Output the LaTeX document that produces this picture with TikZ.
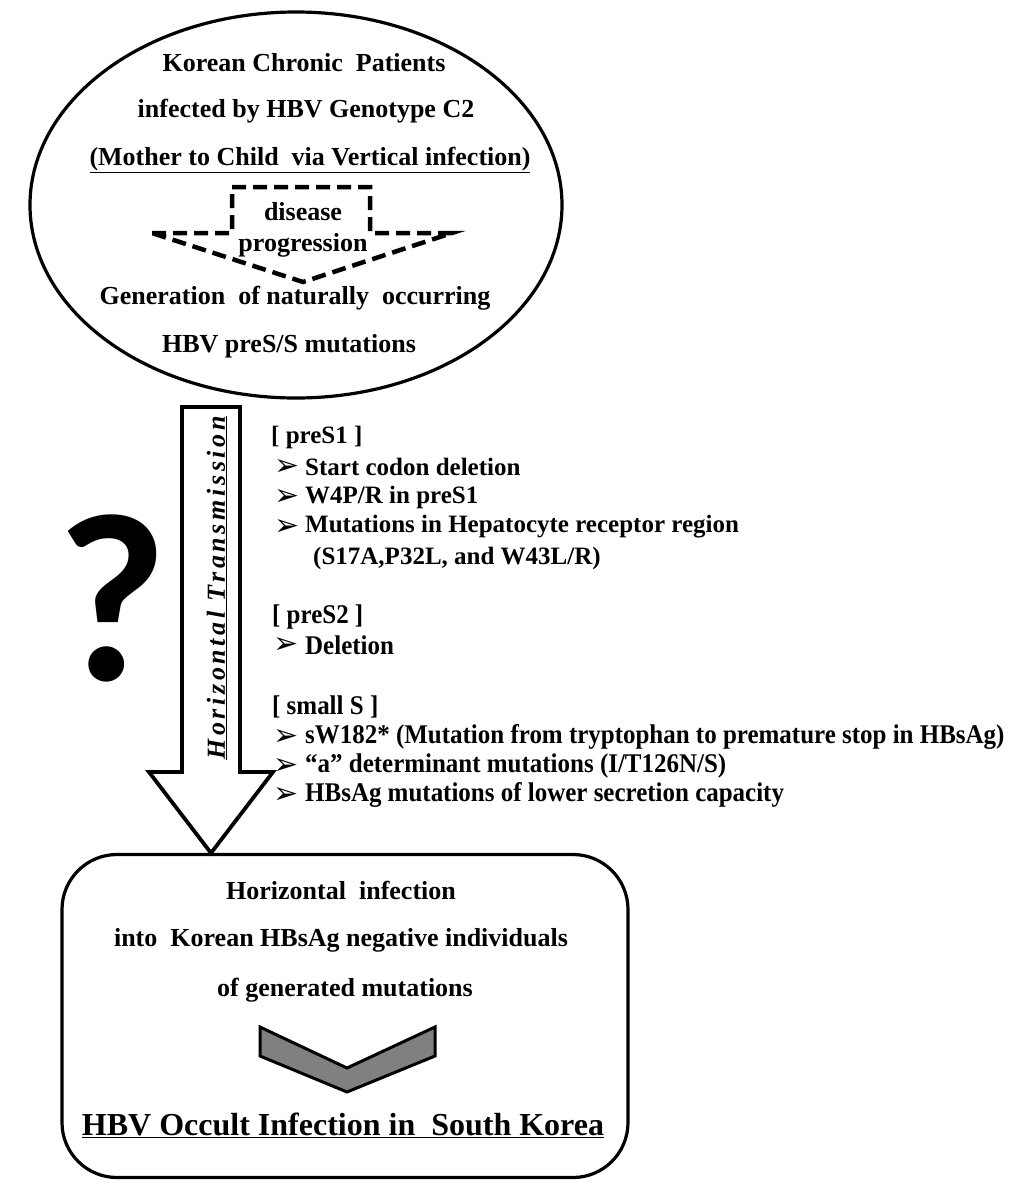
\documentclass[tikz,border=0pt]{standalone}
\usepackage{fontspec}
\setmainfont{Liberation Serif}
\newfontfamily\condfont{Liberation Serif}[FakeStretch=0.925]
\newfontfamily\spacedfont{Liberation Serif}[LetterSpace=14]
\newfontfamily\qfont{Carlito}
\newfontfamily\symfont{DejaVu Sans}
\usetikzlibrary{shapes.geometric}
\begin{document}
\begin{tikzpicture}[x=1pt,y=-1pt,
  txt/.style={inner sep=0pt, font=\fontsize{26}{30}\selectfont\bfseries},
  itm/.style={anchor=west, inner sep=0pt, font=\fontsize{25}{28}\selectfont\bfseries},
  citm/.style={anchor=west, inner sep=0pt, font=\fontsize{27}{30}\condfont\bfseries},
  bul/.style={anchor=west, inner sep=0pt, font=\fontsize{30}{32}\symfont},
  dashline/.style={line width=4.5pt, dash pattern=on 14pt off 7pt},
  outline/.style={line width=3.2pt}]
\useasboundingbox (0,0) rectangle (1024,1192);
\fill[white] (0,0) rectangle (1024,1192);

% top ellipse
\node[ellipse, draw, outline, minimum width=532pt, minimum height=386pt, inner sep=0pt] (ell) at (296,205) {};
\node[txt] (t1) at (304,63) {Korean Chronic\ \ Patients};
\node[txt] (t2) at (306,111) {infected by HBV Genotype C2};
\node[txt] (t3) at (310,160) {\underline{(Mother to Child\ \ via Vertical infection)}};
\draw[dashline] (152,233) -- (232,233) -- (232,187) -- (370,187) -- (370,233) -- (452,233) -- (303,282) -- cycle;
\node[txt] (t4) at (303,212) {disease};
\node[txt] (t5) at (303,245) {progression};
\node[txt] (t6) at (295,298) {Generation\ \ of naturally\ \ occurring};
\node[txt] (t7) at (289,346) {HBV preS/S mutations};

% big arrow
\draw[line width=3.8pt, line join=miter, fill=white] (182,407) -- (240,407) -- (240,772) -- (273,772) -- (211,853) -- (149,772) -- (182,772) -- cycle;
\node[rotate=90, inner sep=0pt, font=\fontsize{26}{30}\spacedfont\bfseries\itshape] (ht) at (217,588) {\underline{Horizontal Transmission}};

% question mark
\node[inner sep=0pt, font=\fontsize{240}{250}\qfont\bfseries] (q) at (112,598) {?};

% mutation list
\node[itm] (h1) at (271,437) {[ preS1 ]};
\node[bul] (b1) at (274,467) {➢};
\node[itm] (i1) at (305,467) {Start codon deletion};
\node[bul] (b2) at (274,497) {➢};
\node[itm] (i2) at (305,497) {W4P/R in preS1};
\node[bul] (b3) at (274,527) {➢};
\node[itm] (i3) at (305,527) {Mutations in Hepatocyte receptor region};
\node[itm] (i4) at (313,558) {(S17A,P32L, and W43L/R)};

\node[citm] (h2) at (272,617) {[ preS2 ]};
\node[bul] (b4) at (273,645) {➢};
\node[citm] (i5) at (305,645) {Deletion};

\node[citm] (h3) at (272,707) {[ small S ]};
\node[bul] (b5) at (273,737) {➢};
\node[citm] (i6) at (305,737) {sW182* (Mutation from tryptophan to premature stop in HBsAg)};
\node[bul] (b6) at (273,766) {➢};
\node[citm] (i7) at (305,766) {“a” determinant mutations (I/T126N/S)};
\node[bul] (b7) at (273,795) {➢};
\node[citm] (i8) at (305,795) {HBsAg mutations of lower secretion capacity};

% bottom box
\node[draw, outline, rounded corners=55pt, minimum width=566pt, minimum height=323pt, inner sep=0pt] (box) at (345,1016) {};
\node[txt] (r1) at (341,890) {Horizontal\ \ infection};
\node[txt] (r2) at (341,940) {into\ \ Korean HBsAg negative individuals};
\node[txt] (r3) at (345,990) {of generated mutations};
\draw[line width=3pt, fill=black!50, line join=miter] (260,1027) -- (347,1068) -- (435,1027) -- (435,1056) -- (347,1092) -- (260,1056) -- cycle;
\node[inner sep=0pt, font=\fontsize{32}{36}\selectfont\bfseries] (r4) at (343,1125) {\underline{HBV Occult Infection in\ \ South Korea}};
\end{tikzpicture}
\end{document}
